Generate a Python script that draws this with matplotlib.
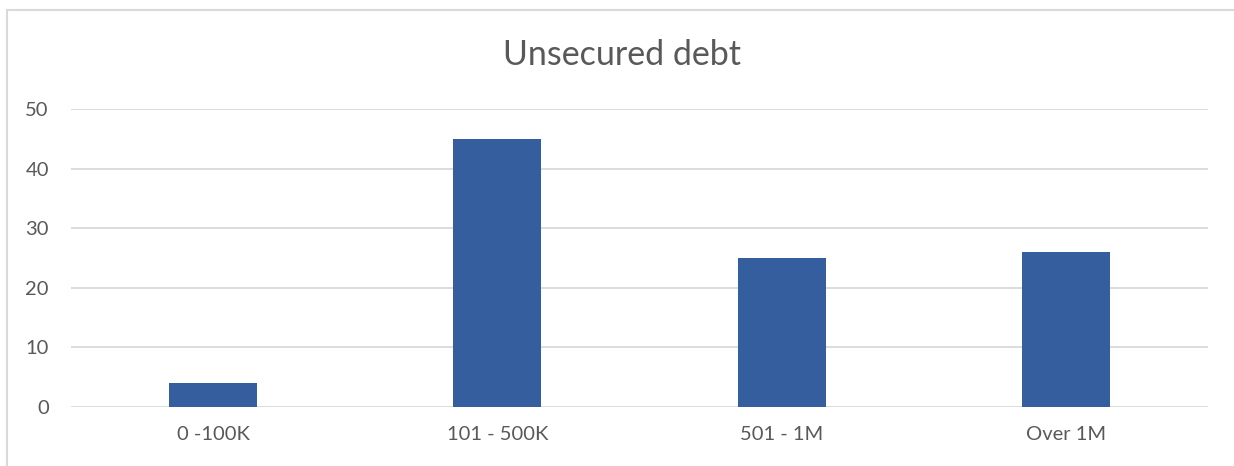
import matplotlib.pyplot as plt
from matplotlib.patches import Rectangle

categories = ["0 -100K", "101 - 500K", "501 - 1M", "Over 1M"]
counts = [4, 45, 25, 26]
y_ticks = [0, 10, 20, 30, 40, 50]

W, H = 1234, 466
text_color = "#595959"
grid_color = "#D9D9D9"
bar_color = "#355E9F"

plt.rcParams["font.family"] = ["Lato", "DejaVu Sans"]

fig = plt.figure(figsize=(W / 100, H / 100), dpi=100)
fig.patch.set_facecolor("white")

# chart frame (left and top edges visible, rest runs off the canvas)
fig.patches.append(Rectangle((7 / W, -0.1), 1.2, (H - 10) / H + 0.1,
                             transform=fig.transFigure, fill=False,
                             edgecolor=grid_color, linewidth=1.5))

ax = fig.add_axes([71 / W, (H - 407) / H, (1208 - 71) / W, (407 - 109) / H])
x = range(len(categories))
ax.bar(x, counts, width=0.31, color=bar_color, zorder=3)

ax.set_xlim(-0.5, len(categories) - 0.5)
ax.set_ylim(0, 50)
ax.set_yticks(y_ticks)
ax.set_xticks(list(x))
ax.set_xticklabels(categories)
ax.yaxis.grid(True, color=grid_color, linewidth=1.3, zorder=0)
ax.set_axisbelow(True)
for s in ax.spines.values():
    s.set_visible(False)
ax.tick_params(axis="both", length=0, labelsize=14.5, colors=text_color)
ax.tick_params(axis="y", pad=16)
ax.tick_params(axis="x", pad=14)

fig.text(622 / W, 1 - 55 / H, "Unsecured debt", ha="center", va="center",
         fontsize=24.5, color=text_color)

fig.savefig("out.png", dpi=100)
